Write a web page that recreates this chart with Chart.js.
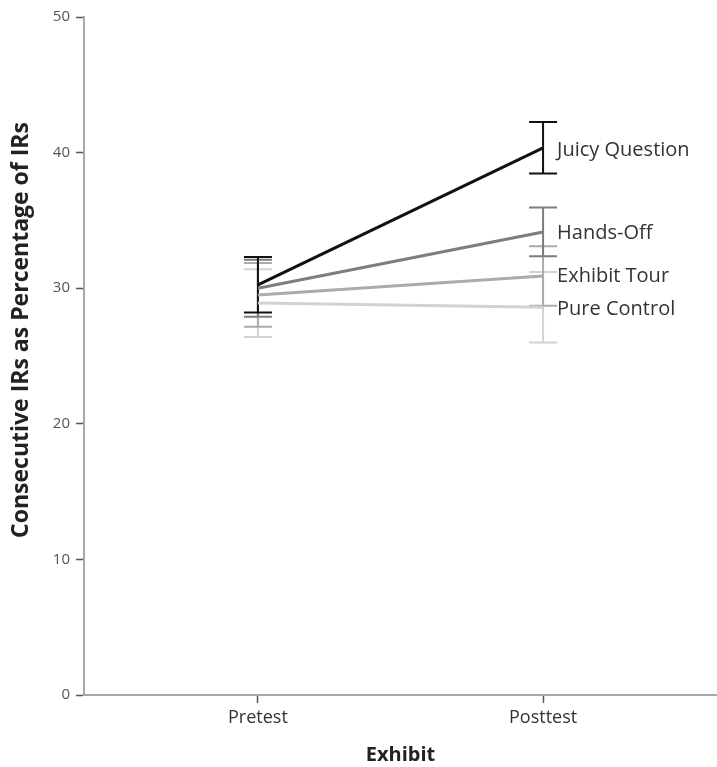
<!DOCTYPE html>
<html>
<head>
<meta charset="utf-8">
<script src="https://cdn.jsdelivr.net/npm/chart.js@4.4.0/dist/chart.umd.min.js"></script>
<style>
  html, body { margin: 0; padding: 0; background: #ffffff; }
  #wrap { width: 717px; height: 767px; }
</style>
</head>
<body>
<div id="wrap"><canvas id="c" width="717" height="767"></canvas></div>
<script>
// Test phases on the x axis
const categories = ['Pretest', 'Posttest'];
const seriesNames = ['Juicy Question', 'Hands-Off', 'Exhibit Tour', 'Pure Control'];

// Mean consecutive IRs (%) per exhibit, Pretest then Posttest
const juicyQuestion = [30.25, 40.35];
const handsOff      = [30.0, 34.15];
const exhibitTour   = [29.5, 30.9];
const pureControl   = [28.9, 28.6];

// Half-width of each error bar
const juicyQuestionErr = [2.05, 1.9];
const handsOffErr      = [2.1, 1.8];
const exhibitTourErr   = [2.35, 2.2];
const pureControlErr   = [2.5, 2.6];

const yTicks = [0, 10, 20, 30, 40, 50];
const yTitle = 'Consecutive IRs as Percentage of IRs';
const xTitle = 'Exhibit';

const colors = ['#111111', '#7d7d7d', '#ababab', '#d2d2d2'];
const means = [juicyQuestion, handsOff, exhibitTour, pureControl];
const errs = [juicyQuestionErr, handsOffErr, exhibitTourErr, pureControlErr];

const FONT = '"Open Sans", "DejaVu Sans", sans-serif';

const datasets = seriesNames.map((name, s) => ({
  label: name,
  data: categories.map((c, i) => ({ x: i + 1, y: means[s][i] })),
  err: errs[s],
  borderColor: colors[s],
  backgroundColor: colors[s],
  borderWidth: 3,
  pointRadius: 0,
  tension: 0,
  order: s
}));

// Error bars with caps, drawn through the chart scales
const errorBars = {
  id: 'errorBars',
  beforeDatasetsDraw(chart) {
    const { ctx, scales: { x, y } } = chart;
    ctx.save();
    for (let s = chart.data.datasets.length - 1; s >= 0; s--) {
      const ds = chart.data.datasets[s];
      ctx.strokeStyle = ds.borderColor;
      ctx.lineWidth = 2;
      ds.data.forEach((p, i) => {
        const px = x.getPixelForValue(p.x);
        const top = y.getPixelForValue(p.y + ds.err[i]);
        const bot = y.getPixelForValue(p.y - ds.err[i]);
        ctx.beginPath();
        ctx.moveTo(px, top); ctx.lineTo(px, bot);
        ctx.moveTo(px - 14, top); ctx.lineTo(px + 14, top);
        ctx.moveTo(px - 14, bot); ctx.lineTo(px + 14, bot);
        ctx.stroke();
      });
    }
    ctx.restore();
  }
};

// Series names beside the Posttest means, plus the rotated y-axis title
const annotations = {
  id: 'annotations',
  afterDatasetsDraw(chart) {
    const { ctx, chartArea, scales: { x, y } } = chart;
    const nudge = [2, 1, 0, 2];
    ctx.save();
    ctx.font = '20px ' + FONT;
    ctx.fillStyle = '#333333';
    ctx.textAlign = 'left';
    ctx.textBaseline = 'middle';
    chart.data.datasets.forEach((ds, s) => {
      const last = ds.data[ds.data.length - 1];
      ctx.fillText(ds.label, x.getPixelForValue(last.x) + 14, y.getPixelForValue(last.y) + nudge[s]);
    });
    ctx.restore();

    ctx.save();
    ctx.font = 'bold 23px ' + FONT;
    ctx.fillStyle = '#222222';
    ctx.textAlign = 'center';
    ctx.textBaseline = 'middle';
    ctx.translate(21, (chartArea.top + chartArea.bottom) / 2 - 26);
    ctx.rotate(-Math.PI / 2);
    ctx.fillText(yTitle, 0, 0);
    ctx.restore();
  }
};

new Chart(document.getElementById('c'), {
  type: 'line',
  data: { datasets },
  plugins: [errorBars, annotations],
  options: {
    responsive: false,
    animation: false,
    layout: { padding: { top: 17, right: 0, bottom: 0, left: 0 } },
    plugins: { legend: { display: false }, tooltip: { enabled: false } },
    scales: {
      x: {
        type: 'linear',
        min: 0.39,
        max: 2.61,
        afterBuildTicks(axis) { axis.ticks = categories.map((c, i) => ({ value: i + 1 })); },
        afterFit(axis) { axis.height = 72; },
        ticks: {
          callback: (v) => categories[v - 1] || '',
          font: { family: FONT, size: 18 },
          color: '#333333',
          padding: 4,
          maxRotation: 0
        },
        grid: { drawOnChartArea: false, tickLength: 8, color: '#555555', tickWidth: 1.5 },
        border: { color: '#a8a8a8', width: 2 },
        title: {
          display: true,
          text: xTitle,
          font: { family: FONT, size: 20, weight: 'bold' },
          color: '#222222',
          padding: { top: 2, bottom: 0 }
        }
      },
      y: {
        min: 0,
        max: 50,
        afterBuildTicks(axis) { axis.ticks = yTicks.map(v => ({ value: v })); },
        afterFit(axis) { axis.width = 84; },
        ticks: {
          font: { family: FONT, size: 15 },
          color: '#555555',
          padding: 6
        },
        grid: { drawOnChartArea: false, tickLength: 8, color: '#555555', tickWidth: 1.5 },
        border: { color: '#a8a8a8', width: 2 },
        title: { display: false }
      }
    }
  }
});
</script>
</body>
</html>
